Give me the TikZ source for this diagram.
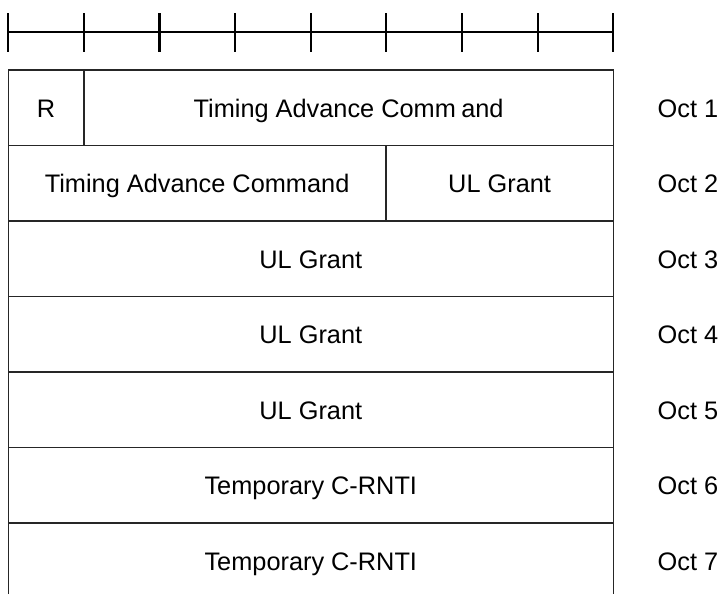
\documentclass[tikz,border=0pt]{standalone}
\usepackage{fontspec}
\setmainfont{Liberation Sans}
\begin{document}
\begin{tikzpicture}[x=0.75pt,y=-0.75pt,
  cell/.style={font=\fontsize{19pt}{22pt}\selectfont, inner sep=0pt, anchor=base},
  grid/.style={line width=0.9pt, draw=black!85},
  ruler/.style={line width=1pt},
  tick/.style={line width=1.6pt}]
\useasboundingbox (0,0) rectangle (723,594);
% ruler
\draw[ruler] (8.3,32) -- (613.3,32);
\foreach \i in {0,...,8} {
  \draw[tick] ({8.3+\i*75.625},13) -- ({8.3+\i*75.625},52);
}
% grid
\draw[grid] (8.3,594) -- (8.3,70) -- (613.3,70) -- (613.3,594);
\foreach \y in {145.5,221,296.5,372,447.5,523} {
  \draw[grid] (8.3,\y) -- (613.3,\y);
}
\draw[grid] (84,70) -- (84,145.5);
\draw[grid] (386,145.5) -- (386,221);
% cell texts (baselines)
\node[cell] (r) at (46.1,117.3) {R};
\node[cell] (tac1) at (348.6,117.3) {Timing Advance Comm\hspace{4pt}and};
\node[cell] (tac2) at (197.1,192.8) {Timing Advance Command};
\node[cell] (ul2) at (499.6,192.8) {UL Grant};
\node[cell] (ul3) at (310.8,268.3) {UL Grant};
\node[cell] (ul4) at (310.8,343.8) {UL Grant};
\node[cell] (ul5) at (310.8,419.3) {UL Grant};
\node[cell] (tc6) at (310.8,494.8) {Temporary C-RNTI};
\node[cell] (tc7) at (310.8,570.3) {Temporary C-RNTI};
% octet labels
\foreach \k/\y in {1/117.3,2/192.8,3/268.3,4/343.8,5/419.3,6/494.8,7/570.3} {
  \node[cell] (oct\k) at (688,\y) {Oct \k};
}
\end{tikzpicture}
\end{document}
